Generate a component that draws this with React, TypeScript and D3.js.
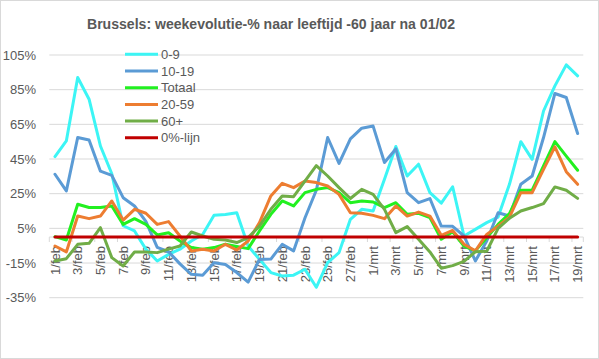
import React from "react";
import * as d3 from "d3";

const categories = [
  "1/feb","2/feb","3/feb","4/feb","5/feb","6/feb","7/feb","8/feb","9/feb","10/feb",
  "11/feb","12/feb","13/feb","14/feb","15/feb","16/feb","17/feb","18/feb","19/feb","20/feb",
  "21/feb","22/feb","23/feb","24/feb","25/feb","26/feb","27/feb","28/feb",
  "1/mrt","2/mrt","3/mrt","4/mrt","5/mrt","6/mrt","7/mrt","8/mrt","9/mrt","10/mrt",
  "11/mrt","12/mrt","13/mrt","14/mrt","15/mrt","16/mrt","17/mrt","18/mrt","19/mrt",
];

const age0_9 = [46.4,55.4,92,79.5,52.5,36.5,6.5,3.5,-7,-13.8,-10,-7,-2.3,1.5,12.5,13,14,-5.2,-12.9,-20.5,-22.5,-22,-18.6,-29,-14.8,-9,10.2,16,15,33.3,52.2,35.2,42,25.6,19.5,29,0.6,4.4,8.3,11.5,30.4,55,44.8,72.7,87.2,99.3,93];
const age10_19 = [36.2,26.6,57.4,56,38,35.6,22.7,17.9,9,-6,-8.5,-15.5,-21.5,-22,-14.8,-15.8,-20.5,-26,-12.9,-12.7,-4.2,-8,11,27,57.4,42.5,56.6,62.8,64,43,50.8,25.6,19.8,22.2,6.3,6.2,0.6,-13.8,-2.3,14,12.1,30.4,35.2,57.4,82.8,80.5,59.7];
const totaal = [0.2,-1.7,18.9,17,17,17.9,7.3,10.6,7.3,1.2,2.5,-2.3,-6.1,-7,-6.1,-4.2,-5.5,-6.7,3.5,13.1,20.8,17.9,25.6,27.5,28.5,25.6,19.8,20.8,20.2,17,19.8,13.1,13.7,11.2,-1.3,3,-5.2,-8,-0.4,7.3,13.5,27,27,41,55,46.7,38.5];
const age20_59 = [-5.2,-8.6,12.1,10.6,12.1,20.8,9.8,16,13.7,7.3,8.9,0.6,-8,-7,-8,-4.2,-7.5,-2.3,8.3,23.7,31,28.5,32.3,31.4,29.4,24.6,14,13.7,12.5,10.6,17.9,12.1,14.4,12.1,1,3.8,-4.2,-8,1.5,6.3,11.5,25.6,25.6,39,52,37.7,30.4];
const age60plus = [-13.8,-12.5,-4.2,-3.6,5.4,-11.9,-16.7,-8.6,-8.6,-9,-7,-5.2,2.9,0.6,-1.3,-1.7,-3.2,-0.3,6.3,16,23.7,23.3,32.3,41.2,35.2,28.5,22.2,27.5,24.6,16,2.5,6,-1.3,-8.6,-18,-16.5,-14,-8.5,-8.2,5,10.8,15,17,19.3,28.9,27,22.3];
const zeroLine = categories.map(() => 0);

const seriesNames = ["0-9", "10-19", "Totaal", "20-59", "60+", "0%-lijn"];
const seriesValues = [age0_9, age10_19, totaal, age20_59, age60plus, zeroLine];
const seriesColors = ["#3CF5F5", "#5B9BD5", "#22F020", "#ED7D31", "#70AD47", "#C00000"];

const yTicks = [-35, -15, 5, 25, 45, 65, 85, 105];

const title = "Brussels:  weekevolutie-% naar leeftijd -60 jaar na 01/02";

export default function App() {
  const W = 599, H = 359;
  const left = 49.3, right = 583.3;
  const x = d3.scaleBand<string>().domain(categories).range([left, right]);
  const cx = (c: string) => (x(c) as number) + x.bandwidth() / 2;
  const y = d3.scaleLinear().domain([-35, 105]).range([297.7, 55]);
  const line = d3
    .line<number>()
    .x((_, i) => cx(categories[i]))
    .y((d) => y(d));
  const font = "'Liberation Sans', Arial, sans-serif";
  const textColor = "#595959";
  const labelCats = categories.filter((_, i) => i % 2 === 0);
  const tickCats = categories.filter((_, i) => i % 2 === 0);

  return (
    <svg
      width={W}
      height={H}
      style={{ position: "absolute", left: 0, top: 0, background: "#fff" }}
      fontFamily={font}
    >
      <rect x={0.5} y={0.5} width={W - 1} height={H - 1} fill="#fff" stroke="#d9d9d9" />
      <text
        x={271}
        y={29}
        textAnchor="middle"
        fontSize={14.5}
        fontWeight="bold"
        fill={textColor}
        textLength={368}
        lengthAdjust="spacingAndGlyphs"
      >
        {title}
      </text>
      {yTicks.map((t) => (
        <g key={t}>
          <line x1={left} x2={right} y1={y(t)} y2={y(t)} stroke="#d9d9d9" strokeWidth={1} />
          <text x={36} y={y(t)} dy="0.35em" textAnchor="end" fontSize={13} fill={textColor}>
            {t}%
          </text>
        </g>
      ))}
      <line x1={left} x2={right} y1={y(0)} y2={y(0)} stroke="#d9d9d9" />
      {tickCats.map((c) => (
        <line key={c} x1={x(c) as number} x2={x(c) as number} y1={y(0)} y2={y(0) + 5} stroke="#d9d9d9" />
      ))}
      <line x1={right} x2={right} y1={y(0)} y2={y(0) + 5} stroke="#d9d9d9" />
      {labelCats.map((c) => (
        <text
          key={c}
          transform={`translate(${cx(c)},${y(0) + 9}) rotate(-90)`}
          textAnchor="end"
          dy="0.35em"
          fontSize={13}
          fill={textColor}
        >
          {c}
        </text>
      ))}
      {seriesValues.map((vals, k) => (
        <path
          key={seriesNames[k]}
          d={line(vals) as string}
          fill="none"
          stroke={seriesColors[k]}
          strokeWidth={3}
          strokeLinejoin="round"
          strokeLinecap="round"
        />
      ))}
      {seriesNames.map((n, k) => {
        const ly = 54.3 + k * 16.7;
        return (
          <g key={n}>
            <line x1={125} x2={158} y1={ly} y2={ly} stroke={seriesColors[k]} strokeWidth={3} />
            <text x={161} y={ly} dy="0.35em" fontSize={13} fill={textColor}>
              {n}
            </text>
          </g>
        );
      })}
    </svg>
  );
}
